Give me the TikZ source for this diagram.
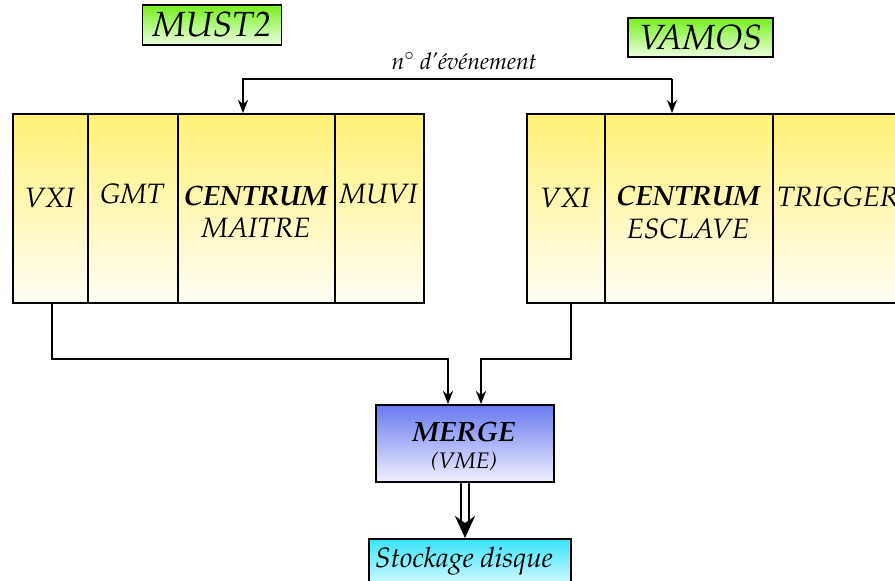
\documentclass[tikz,border=0pt]{standalone}
\usepackage[T1]{fontenc}
\usepackage{mathpazo}
\usetikzlibrary{arrows.meta}
\definecolor{ylwtop}{RGB}{255,241,118}
\definecolor{ylwbot}{RGB}{255,254,246}
\definecolor{grntop}{RGB}{118,240,30}
\definecolor{grnbot}{RGB}{236,255,224}
\definecolor{blutop}{RGB}{105,122,240}
\definecolor{blubot}{RGB}{240,240,255}
\definecolor{cyntop}{RGB}{55,228,250}
\definecolor{cynbot}{RGB}{235,252,255}
\tikzset{
  cell/.style={draw, line width=1.8pt, top color=ylwtop, bottom color=ylwbot,
    minimum height=189pt, inner sep=0pt, anchor=north west},
  lab/.style={font=\fontsize{28}{30}\selectfont\itshape, anchor=base, inner sep=0pt},
  blab/.style={font=\fontsize{28}{30}\selectfont\bfseries\itshape, anchor=base, inner sep=0pt},
  gbox/.style={draw, line width=1.8pt, top color=grntop, bottom color=grnbot,
    inner sep=0pt, font=\fontsize{35}{37}\selectfont\itshape},
  arr/.style={line width=1.8pt, -{Stealth[length=13pt,width=10pt,inset=4pt]}},
  ln/.style={line width=1.8pt}
}
\begin{document}
\begin{tikzpicture}[x=1pt,y=-1pt]
\clip (0,0) rectangle (895,581);
\fill[white] (0,0) rectangle (895,581);
% title boxes
\node[gbox, minimum width=139pt, minimum height=40pt] (must) at (212,25) {MUST2};
\node[gbox, minimum width=145pt, minimum height=39pt] (vamos) at (700.5,37.5) {VAMOS};
% left crate
\node[cell, minimum width=75pt] (lvxi) at (12,113) {};
\node[cell, minimum width=90pt] (lgmt) at (87,113) {};
\node[cell, minimum width=157pt] (lcen) at (177,113) {};
\node[cell, minimum width=89pt] (lmuvi) at (334,113) {};
% right crate
\node[cell, minimum width=78pt] (rvxi) at (526,113) {};
\node[cell, minimum width=168pt] (rcen) at (604,113) {};
\node[cell, minimum width=135pt] (rtrig) at (772,113) {};
% labels
\node[lab] (t1) at (49.5,207) {VXI};
\node[lab] (t2) at (132,203) {GMT};
\node[blab] (t3) at (255.5,205) {CENTRUM};
\node[lab] (t4) at (256,237) {MAITRE};
\node[lab] (t5) at (378.5,203) {MUVI};
\node[lab] (t6) at (565,207) {VXI};
\node[blab] (t7) at (688,205.5) {CENTRUM};
\node[lab] (t8) at (688,238) {ESCLAVE};
\node[lab] (t9) at (838,206) {TRIGGER};
% event number bus
\node[font=\fontsize{23}{25}\selectfont\itshape, anchor=base, inner sep=0pt] (evt) at (464,69) {n$^{\circ}$ d'\'ev\'enement};
\coordinate (busL) at (243,79);
\coordinate (busR) at (672,79);
\draw[arr] (busR) -- (busL) -- (busL |- lcen.north);
\draw[arr] (busR) -- (busR |- rcen.north);
% merge
\node[draw, line width=1.8pt, top color=blutop, bottom color=blubot, minimum width=178pt, minimum height=77pt, inner sep=0pt] (merge) at (465,443.5) {};
\node[font=\fontsize{28}{30}\selectfont\bfseries\itshape, anchor=base, inner sep=0pt] (mt) at (464,441) {MERGE};
\node[font=\fontsize{22.5}{24}\selectfont\itshape, anchor=base, inner sep=0pt] (mv) at (464,468) {(VME)};
% storage
\node[draw, line width=1.8pt, top color=cyntop, bottom color=cynbot, minimum width=202pt, minimum height=52pt, inner sep=0pt, anchor=north west] (stock) at (368,538) {};
\node[font=\fontsize{28}{30}\selectfont\itshape, anchor=base west, inner sep=0pt] (st) at (375,567) {Stockage disque};
% data lines
\coordinate (dL) at (52,302);
\coordinate (dR) at (571,302);
\coordinate (mL) at (448,359);
\coordinate (mR) at (481,359);
\draw[arr] (dL) -- (dL |- mL) -- (mL) -- (mL |- merge.north);
\draw[arr] (dR) -- (dR |- mR) -- (mR) -- (mR |- merge.north);
\draw[line width=2.2pt, double, double distance=5.5pt, -{Stealth[length=22pt,width=20pt,inset=7pt]}] (merge.south) -- (stock.north -| merge.south);
\end{tikzpicture}
\end{document}
